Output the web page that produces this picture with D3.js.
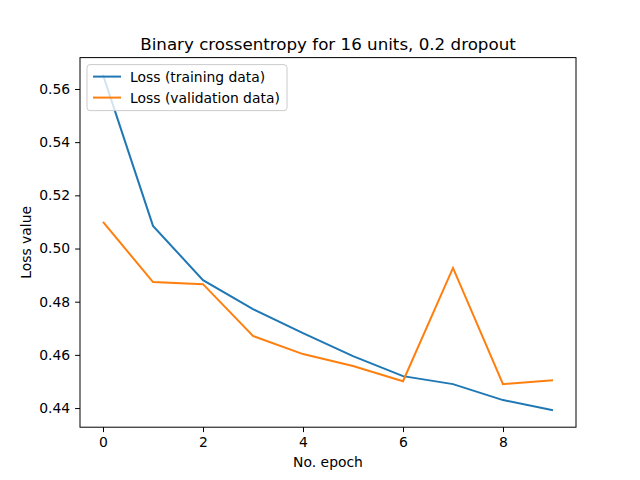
<!DOCTYPE html>
<html><head><meta charset="utf-8">
<script src="https://cdn.jsdelivr.net/npm/d3@7"></script>
<style>body{margin:0;background:#fff}text{font-family:"DejaVu Sans",sans-serif}</style>
</head><body>
<svg id="chart" width="640" height="480"></svg>
<script>
var epochs = [0,1,2,3,4,5,6,7,8,9];
var trainLoss = [0.5653,0.5085,0.4881,0.4772,0.4682,0.4595,0.4520,0.4490,0.4430,0.4392];
var valLoss = [0.5100,0.4874,0.4866,0.4671,0.4603,0.4558,0.4501,0.4927,0.4490,0.4505];
var xTicks = [0,2,4,6,8];
var yTicks = [0.44,0.46,0.48,0.50,0.52,0.54,0.56];

var svg = d3.select('#chart');
var L=80,R=576,T=57.6,B=427.2;
var x = d3.scaleLinear().domain([-0.46,9.46]).range([L,R]);
var y = d3.scaleLinear().domain([0.4328,0.5718]).range([B,T]);

svg.append('g').attr('transform','translate(0,'+B+')')
  .call(d3.axisBottom(x).tickValues(xTicks).tickSize(4.9).tickPadding(4.9).tickFormat(d3.format('d')))
  .call(g=>g.select('.domain').remove());
svg.append('g').attr('transform','translate('+L+',0)')
  .call(d3.axisLeft(y).tickValues(yTicks).tickSize(4.9).tickPadding(4.9).tickFormat(d3.format('.2f')))
  .call(g=>g.select('.domain').remove());
svg.selectAll('.tick text').attr('font-size',13.9).attr('fill','#000');
svg.selectAll('.tick line').attr('stroke','#000');

var line = d3.line().x((d,i)=>x(epochs[i])).y(d=>y(d));
svg.append('path').datum(trainLoss).attr('d',line).attr('fill','none').attr('stroke','#1f77b4').attr('stroke-width',2);
svg.append('path').datum(valLoss).attr('d',line).attr('fill','none').attr('stroke','#ff7f0e').attr('stroke-width',2);

svg.append('rect').attr('x',L).attr('y',T).attr('width',R-L).attr('height',B-T)
  .attr('fill','none').attr('stroke','#000').attr('stroke-width',1);

svg.append('text').attr('x',(L+R)/2).attr('y',T-8).attr('text-anchor','middle').attr('font-size',16.7)
  .text('Binary crossentropy for 16 units, 0.2 dropout');
svg.append('text').attr('x',(L+R)/2).attr('y',467).attr('text-anchor','middle').attr('font-size',13.9).text('No. epoch');
svg.append('text').attr('transform','translate(31,'+((T+B)/2)+') rotate(-90)').attr('text-anchor','middle').attr('font-size',13.9).text('Loss value');

var leg = svg.append('g').attr('transform','translate('+(L+7)+','+(T+7)+')');
leg.append('rect').attr('width',200).attr('height',46).attr('rx',3).attr('fill','#fff').attr('fill-opacity',0.8).attr('stroke','#ccc');
[['Loss (training data)','#1f77b4'],['Loss (validation data)','#ff7f0e']].forEach(function(d,i){
  var yy = 12+i*21;
  leg.append('line').attr('x1',6).attr('x2',34).attr('y1',yy).attr('y2',yy).attr('stroke',d[1]).attr('stroke-width',2);
  leg.append('text').attr('x',43).attr('y',yy+5).attr('font-size',13.9).text(d[0]);
});
</script>
</body></html>
